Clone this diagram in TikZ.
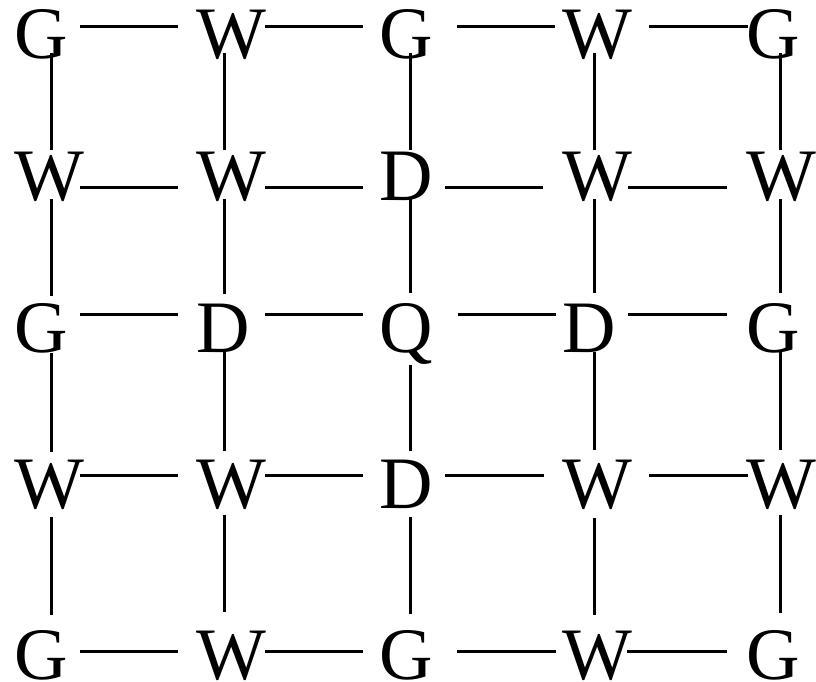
\documentclass[tikz,border=0pt]{standalone}
\usepackage{fontspec}
\setmainfont{Liberation Serif}
\begin{document}
\begin{tikzpicture}[x=1pt,y=-1pt,
  letter/.style={anchor=base west,inner sep=0pt,outer sep=0pt,font=\fontsize{74}{74}\selectfont},
  edge/.style={line width=3pt,black}]
\useasboundingbox (0,0) rectangle (816,682);
% letters
\def\colx{{14,196,379,562,746}}
\def\rowy{{59,200,352,508,679}}
\foreach \r/\row in {0/{G,W,G,W,G},1/{W,W,D,W,W},2/{G,D,Q,D,G},3/{W,W,D,W,W},4/{G,W,G,W,G}}{
  \foreach \ch [count=\c from 0] in \row {
    \pgfmathsetmacro{\xx}{\colx[\c]}
    \pgfmathsetmacro{\yy}{\rowy[\r]}
    \node[letter] (n-\r-\c) at (\xx,\yy) {\ch};
  }
}
% horizontal connectors
\foreach \y/\segs in {27/{80/178,265/363,457/555,649/748},
                      187/{80/178,265/363,445/543,628/727},
                      314/{80/178,265/363,458/556,628/727},
                      475/{80/178,265/363,445/544,649/748},
                      651/{80/178,265/363,457/556,627/727}}{
  \foreach \a/\b [count=\k] in \segs {
    \coordinate (h-\y-\k-a) at (\a,\y);
    \coordinate (h-\y-\k-b) at (\b,\y);
    \draw[edge] (h-\y-\k-a) -- (h-\y-\k-b);
  }
}
% vertical connectors
\foreach \x/\segs in {51/{53/150,199/296,353/452,517/615},
                      224/{53/150,199/294,352/451,515/612},
                      410/{53/150,199/293,365/451,517/614},
                      594/{53/150,199/293,352/450,518/615},
                      780/{53/150,199/293,352/450,515/613}}{
  \foreach \a/\b [count=\k] in \segs {
    \coordinate (v-\x-\k-a) at (\x,\a);
    \coordinate (v-\x-\k-b) at (\x,\b);
    \draw[edge] (v-\x-\k-a) -- (v-\x-\k-b);
  }
}
\end{tikzpicture}
\end{document}
